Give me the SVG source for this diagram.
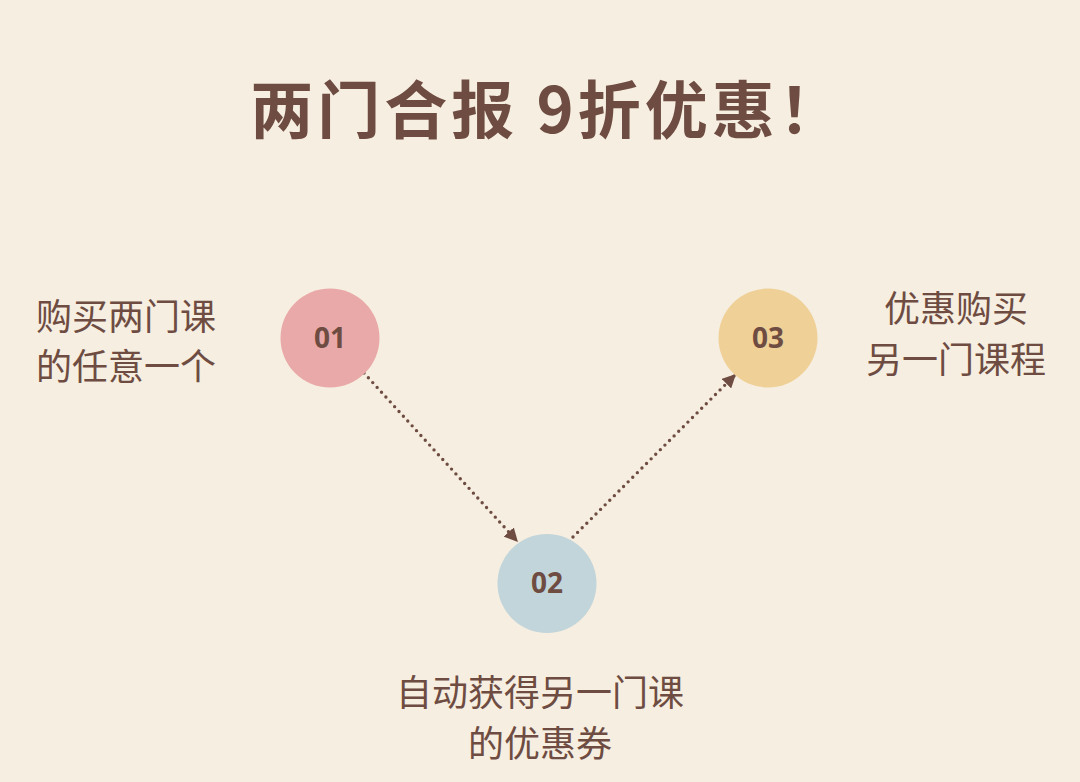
<svg xmlns="http://www.w3.org/2000/svg" width="1080" height="782" viewBox="0 0 1080 782">
<style>
.t{font-family:"Noto Sans CJK SC","Noto Sans",sans-serif;fill:#6e4c42;}
.title{font-size:63px;font-weight:700;letter-spacing:4px;}
.lab{font-size:36px;font-weight:400;}
.num{font-family:"Open Sans","Noto Sans",sans-serif;font-size:28px;font-weight:700;fill:#6e4c42;}
.con{stroke:#6e4c42;stroke-width:3.4;stroke-linecap:round;stroke-dasharray:0 6.5;fill:none;}
</style>
<defs>
<marker id="ah" viewBox="0 0 10 10" refX="9" refY="5" markerWidth="4" markerHeight="4" orient="auto" markerUnits="strokeWidth">
<path d="M0,0 L10,5 L0,10 Z" fill="#6e4c42"/>
</marker>
</defs>
<rect width="1080" height="782" fill="#f6eee0"/>
<g id="title"><text class="t title" x="548" y="133" text-anchor="middle">两门合报 9折优惠！</text></g>
<g id="connectors">
<line class="con" x1="364" y1="373" x2="517" y2="541" marker-end="url(#ah)"/>
<line class="con" x1="573" y1="537" x2="735" y2="375" marker-end="url(#ah)"/>
</g>
<g id="node1">
<circle cx="330" cy="338" r="49.5" fill="#e9a9a8"/>
<text class="num" x="330" y="348" text-anchor="middle">01</text>
<text class="t lab" x="126" y="330" text-anchor="middle">购买两门课</text>
<text class="t lab" x="126" y="380" text-anchor="middle">的任意一个</text>
</g>
<g id="node2">
<circle cx="547" cy="583.5" r="49.5" fill="#c1d5da"/>
<text class="num" x="547" y="593" text-anchor="middle">02</text>
<text class="t lab" x="540" y="706" text-anchor="middle">自动获得另一门课</text>
<text class="t lab" x="540" y="757" text-anchor="middle">的优惠券</text>
</g>
<g id="node3">
<circle cx="768" cy="338" r="49.5" fill="#efd097"/>
<text class="num" x="768" y="348" text-anchor="middle">03</text>
<text class="t lab" x="956" y="322" text-anchor="middle">优惠购买</text>
<text class="t lab" x="956" y="373" text-anchor="middle">另一门课程</text>
</g>
</svg>
